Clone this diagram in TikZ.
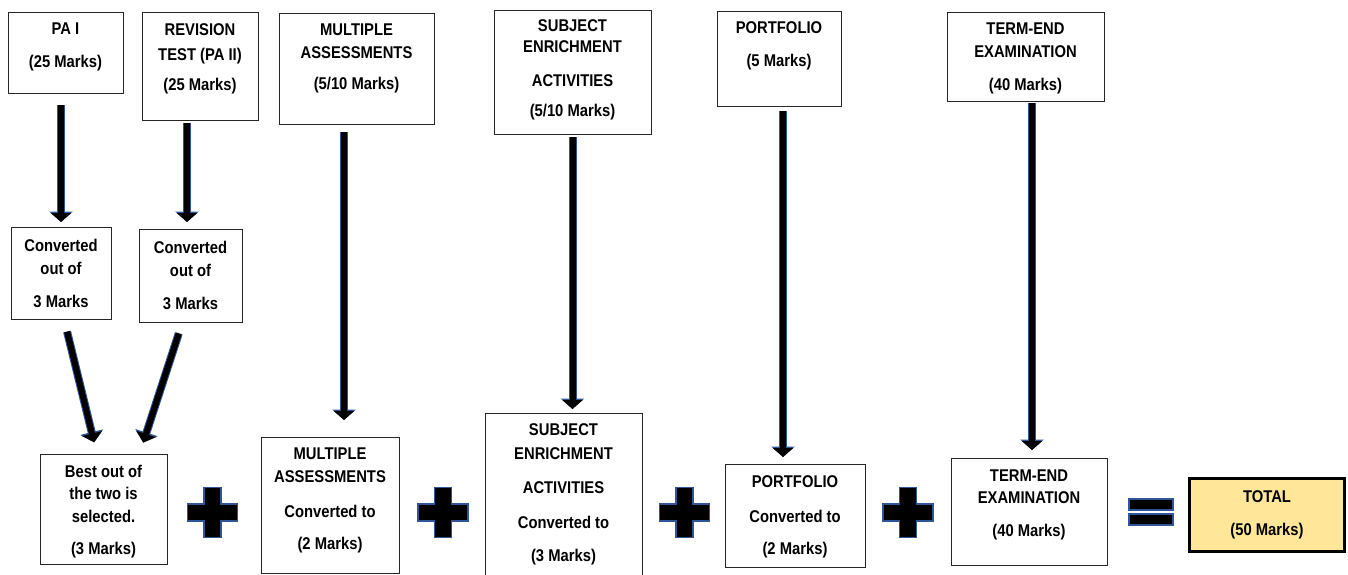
\documentclass[tikz,border=0pt]{standalone}
\usepackage{fontspec}
\setmainfont{Liberation Sans}[FakeStretch=0.87]
\usetikzlibrary{arrows.meta,calc}
\definecolor{edgeblue}{HTML}{2F5597}
\definecolor{totalfill}{HTML}{FFE699}
\tikzset{
	box/.style={draw=black!85, line width=0.8pt, inner sep=0pt, outer sep=0pt, anchor=north west,
		font=\fontsize{17}{23}\selectfont\bfseries},
	flow/.style={draw=black, line width=6pt, -{Triangle[width=20pt,length=9pt]}, shorten <=4pt, shorten >=6pt,
		preaction={draw=edgeblue, line width=8pt, -{Triangle[width=23pt,length=10.5pt]}}},
	sign/.style={fill=black, draw=edgeblue, line width=1.2pt}
}
\newcommand{\boxtext}[4]{\parbox[t][#2pt][t]{#1pt}{\centering\vspace*{#3pt}#4}}
\newcommand{\drawflow}[4][]{
	\draw[flow,#1] ([xshift=#4pt]#2.south) -- ($(#2.south |- #3.north)+(#4,0)$);
}
\newcommand{\drawplus}[2]{
	\draw[sign] (#1,#2) ++(-8.5,-25) -- ++(17,0) -- ++(0,16.5) -- ++(16.5,0) -- ++(0,17) -- ++(-16.5,0)
		-- ++(0,16.5) -- ++(-17,0) -- ++(0,-16.5) -- ++(-16.5,0) -- ++(0,-17) -- ++(16.5,0) -- cycle;
}

\begin{document}
\begin{tikzpicture}[x=1pt,y=-1pt]
	\useasboundingbox (0,0) rectangle (1348,574);
	% top row
	\node[box] (pa1) at (8,12) {\boxtext{115}{81}{10.8}{PA I\\[10pt](25 Marks)}};
	\node[box] (rev) at (142,12) {\boxtext{116}{108}{11.8}{REVISION\\[2pt]TEST (PA II)\\[7pt](25 Marks)}};
	\node[box] (mtop) at (279,13) {\boxtext{155}{111}{10.8}{MULTIPLE\\ASSESSMENTS\\[8pt](5/10 Marks)}};
	\node[box] (stop) at (494,10) {\boxtext{157}{124}{9.8}{SUBJECT\\[-2pt]ENRICHMENT\\[11pt]ACTIVITIES\\[7pt](5/10 Marks)}};
	\node[box] (ptop) at (717,11) {\boxtext{124}{95}{10.8}{PORTFOLIO\\[10pt](5 Marks)}};
	\node[box] (ttop) at (947,12) {\boxtext{157}{89}{11.3}{TERM-END\\EXAMINATION\\[9pt](40 Marks)}};
	% converted
	\node[box] (conv1) at (11,227) {\boxtext{100}{92}{12.3}{Converted\\out of\\[10pt]3 Marks}};
	\node[box] (conv2) at (139,229) {\boxtext{103}{93}{11.8}{Converted\\out of\\[10pt]3 Marks}};
	% bottom row
	\node[box] (best) at (40,454) {\boxtext{127}{110}{10.8}{Best out of\\[-1pt]the two is\\selected.\\[9pt](3 Marks)}};
	\node[box] (mbot) at (261,437) {\boxtext{138}{136}{10.8}{MULTIPLE\\ASSESSMENTS\\[12pt]Converted to\\[9pt](2 Marks)}};
	\node[box] (sbot) at (485,413) {\boxtext{157}{165}{10.8}{SUBJECT\\[1pt]ENRICHMENT\\[11pt]ACTIVITIES\\[12pt]Converted to\\[10pt](3 Marks)}};
	\node[box] (pbot) at (725,464) {\boxtext{140}{103}{11.8}{PORTFOLIO\\[12pt]Converted to\\[9pt](2 Marks)}};
	\node[box] (tbot) at (951,458) {\boxtext{156}{107}{11.8}{TERM-END\\[-1pt]EXAMINATION\\[10pt](40 Marks)}};
	\node[box, line width=3pt, draw=black, fill=totalfill] (total) at (1189.5,478.5) {\boxtext{155}{73}{12.3}{TOTAL\\[10pt](50 Marks)}};
	% arrows
	\drawflow[shorten <=12pt, shorten >=5pt]{pa1}{conv1}{-4.5}
	\drawflow[shorten <=3pt, shorten >=7pt]{rev}{conv2}{-13}
	\drawflow[shorten <=8pt, shorten >=17pt]{mtop}{mbot}{-12.5}
	\drawflow[shorten <=3pt, shorten >=4pt]{stop}{sbot}{0}
	\drawflow[shorten <=5pt, shorten >=7pt]{ptop}{pbot}{4}
	\drawflow[shorten <=2pt, shorten >=8pt]{ttop}{tbot}{6.5}
	\draw[flow, shorten <=13pt, shorten >=12pt] ([xshift=3pt]conv1.south) -- ([xshift=-6.5pt]best.north);
	\draw[flow, shorten <=12pt, shorten >=12pt] ([xshift=-8pt]conv2.south) -- ([xshift=36pt]best.north);
	% signs
	\foreach \cx in {212.5,443,684.5,908} {
		\drawplus{\cx}{512.5}
	}
	\draw[sign] (1129,499) rectangle (1173,510);
	\draw[sign] (1129,514) rectangle (1173,525);
\end{tikzpicture}
\end{document}
